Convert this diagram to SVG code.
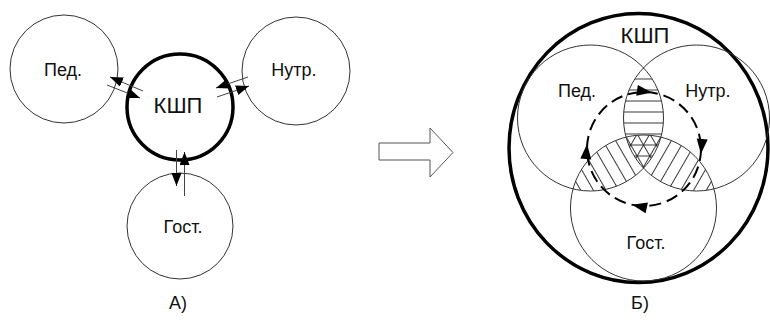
<svg xmlns="http://www.w3.org/2000/svg" width="770" height="324" viewBox="0 0 770 324">
<style>
.c{fill:none;stroke:#333;stroke-width:1}
.thick{fill:none;stroke:#000;stroke-width:3.5}
.t{font-family:"Liberation Sans",Arial,sans-serif;font-size:18px;fill:#111;text-anchor:middle}
.big{font-size:22px}
.cn{stroke:#444;stroke-width:1;fill:none;marker-end:url(#ah)}
.hl{stroke:#222;stroke-width:0.9}
</style>
<defs>
<marker id="ah" markerUnits="userSpaceOnUse" markerWidth="16" markerHeight="12" refX="13" refY="5" orient="auto">
<path d="M0,0 L13,5 L0,10 Z" fill="#000"/>
</marker>
<pattern id="hH" patternUnits="userSpaceOnUse" x="643.5" y="139.5" width="11" height="11">
<line x1="0" y1="5.5" x2="11" y2="5.5" class="hl"/>
</pattern>
<pattern id="hL" patternUnits="userSpaceOnUse" x="643.5" y="139.5" width="11" height="11" patternTransform="rotate(60 643.5 145)">
<line x1="0" y1="5.5" x2="11" y2="5.5" class="hl"/>
</pattern>
<pattern id="hR" patternUnits="userSpaceOnUse" x="643.5" y="139.5" width="11" height="11" patternTransform="rotate(-60 643.5 145)">
<line x1="0" y1="5.5" x2="11" y2="5.5" class="hl"/>
</pattern>
<clipPath id="cP"><circle cx="590.5" cy="118" r="73"/></clipPath>
<clipPath id="cN"><circle cx="696.5" cy="118" r="73"/></clipPath>
<clipPath id="cG"><circle cx="643.5" cy="208" r="73"/></clipPath>
<path id="arr" d="M0,0 L-15,-5.5 L-15,5.5 Z" fill="#000"/>
</defs>
<rect width="770" height="324" fill="#fff"/>

<!-- Diagram A -->
<g id="node-ped-a"><circle class="c" cx="64" cy="69" r="54"/><text class="t" x="63" y="76">Пед.</text></g>
<g id="node-nutr-a"><circle class="c" cx="296" cy="71" r="54"/><text class="t" x="294" y="76">Нутр.</text></g>
<g id="node-gost-a"><circle class="c" cx="180" cy="226" r="53"/><text class="t" x="183" y="233">Гост.</text></g>
<g id="node-kshp-a"><circle class="thick" cx="180" cy="107" r="53"/><text class="t big" x="178" y="113">КШП</text></g>
<g id="connectors">
<line class="cn" x1="143" y1="91" x2="110" y2="77"/>
<line class="cn" x1="107" y1="85" x2="140" y2="98"/>
<line class="cn" x1="248" y1="77" x2="216" y2="88"/>
<line class="cn" x1="217" y1="97" x2="249" y2="86"/>
<line class="cn" x1="176.5" y1="150" x2="176.5" y2="186"/>
<line class="cn" x1="184.5" y1="196" x2="184.5" y2="152"/>
</g>
<text class="t" x="178" y="309">А)</text>

<!-- Transition arrow -->
<polygon id="transition-arrow" points="379,143 430,143 430,128 453,152.5 430,177 430,160 379,160" fill="#fff" stroke="#555" stroke-width="1"/>

<!-- Diagram B -->
<g id="hatching">
<g clip-path="url(#cP)"><rect x="500" y="40" width="280" height="260" fill="url(#hH)" clip-path="url(#cN)"/></g>
<g clip-path="url(#cP)"><rect x="500" y="40" width="280" height="260" fill="url(#hL)" clip-path="url(#cG)"/></g>
<g clip-path="url(#cN)"><rect x="500" y="40" width="280" height="260" fill="url(#hR)" clip-path="url(#cG)"/></g>
</g>
<g id="node-kshp-b"><ellipse class="thick" cx="638.5" cy="148" rx="129.5" ry="134.5"/><text class="t big" x="645" y="43">КШП</text></g>
<g id="node-ped-b"><circle class="c" cx="590.5" cy="118" r="73"/><text class="t" x="577" y="97">Пед.</text></g>
<g id="node-nutr-b"><circle class="c" cx="696.5" cy="118" r="73"/><text class="t" x="708" y="97">Нутр.</text></g>
<g id="node-gost-b"><circle class="c" cx="643.5" cy="208" r="73"/><text class="t" x="646" y="249">Гост.</text></g>
<g id="cycle">
<circle cx="644" cy="149" r="57" fill="none" stroke="#000" stroke-width="2" stroke-dasharray="12 6"/>
<use href="#arr" transform="translate(651.9,92.5) rotate(8)"/>
<use href="#arr" transform="translate(700.9,154) rotate(95)"/>
<use href="#arr" transform="translate(632.1,204.8) rotate(192)"/>
<use href="#arr" transform="translate(587.1,144) rotate(275)"/>
</g>
<text class="t" x="640" y="309">Б)</text>
</svg>
